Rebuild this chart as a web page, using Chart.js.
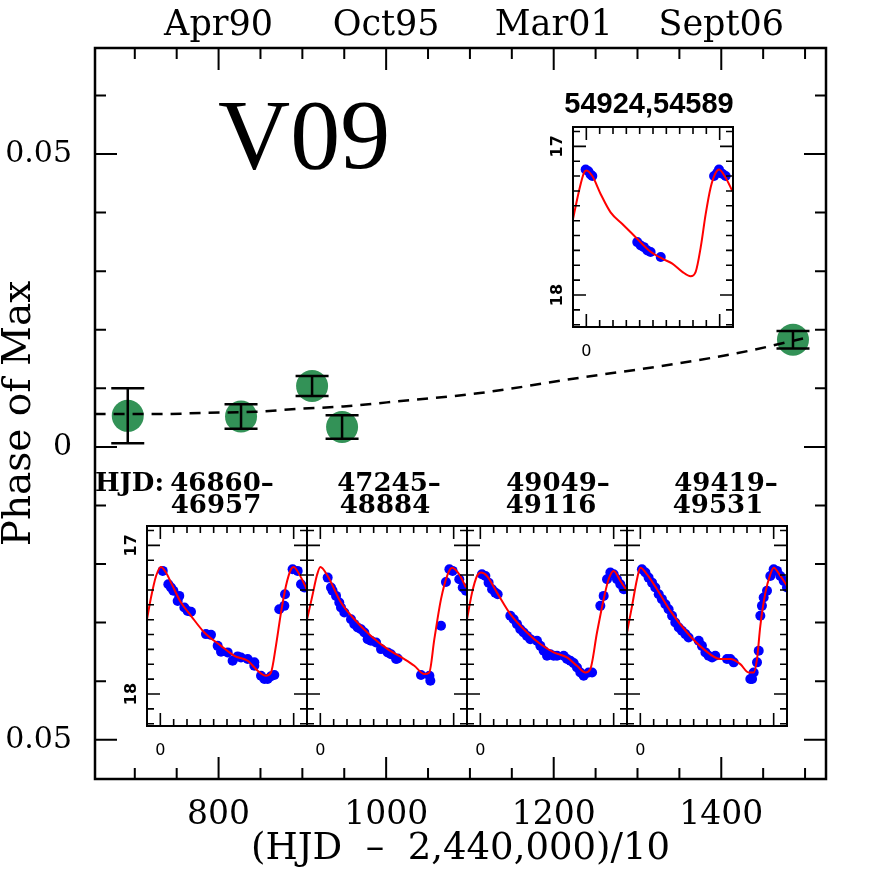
<!DOCTYPE html>
<html>
<head>
<meta charset="utf-8">
<script src="https://cdn.jsdelivr.net/npm/chart.js@4.4.1/dist/chart.umd.min.js"></script>
<style>
html, body { margin: 0; padding: 0; background: #fff; }
#wrap { position: relative; width: 872px; height: 872px; }
canvas { position: absolute; }
</style>
</head>
<body>
<div id="wrap">
  <canvas id="main" width="872" height="872" style="left:0;top:0"></canvas>
</div>
<script>
// ---- main plot data ----
const xTicks = [800, 1000, 1200, 1400];
const topLabels = ['Apr90', 'Oct95', 'Mar01', 'Sept06'];
const yTicks = [-0.05, 0, 0.05];
const yTickLabels = ['0.05', '0', '0.05'];

const epochX = [691.6, 826.8, 911.6, 947.4, 1485.6];
const epochPhase = [0.0053, 0.0052, 0.0104, 0.0034, 0.0183];
const epochErr = [0.0047, 0.0021, 0.0017, 0.0020, 0.0015];

const fitX = [652, 683, 730, 782, 844, 897, 949, 1001, 1112, 1231, 1351, 1433, 1500];
const fitY = [0.0056, 0.0056, 0.0056, 0.0058, 0.0060, 0.0065, 0.0069, 0.0076, 0.0092, 0.0118, 0.0143, 0.0164, 0.0186];

// ---- inset light curves (phase, magnitude) ----
const panelTitles = [['46860–', '46957'], ['47245–', '48884'], ['49049–', '49116'], ['49419–', '49531']];
const hjdPrefix = 'HJD:';
const topInsetTitle = '54924,54589';

const p1ModelPhase = [-0.102, -0.07, -0.032, 0.005, 0.042, 0.092, 0.155, 0.23, 0.33, 0.455, 0.555, 0.655, 0.73, 0.792, 0.83, 0.867, 0.905, 0.942, 0.98, 1.0, 1.042, 1.098];
const p1ModelMag = [17.508, 17.351, 17.206, 17.145, 17.183, 17.273, 17.385, 17.474, 17.586, 17.676, 17.743, 17.776, 17.843, 17.877, 17.855, 17.676, 17.452, 17.273, 17.161, 17.145, 17.195, 17.295];
const p1Phase = [0.018, 0.06, 0.08, 0.098, 0.142, 0.13, 0.18, 0.205, 0.23, 0.342, 0.38, 0.43, 0.455, 0.505, 0.542, 0.58, 0.605, 0.655, 0.705, 0.705, 0.755, 0.78, 0.805, 0.83, 0.855, 0.892, 0.93, 0.935, 0.992, 1.03, 1.055, 1.08];
const p1Mag = [17.172, 17.262, 17.284, 17.306, 17.340, 17.374, 17.418, 17.441, 17.447, 17.597, 17.602, 17.676, 17.716, 17.720, 17.776, 17.747, 17.754, 17.765, 17.787, 17.810, 17.877, 17.899, 17.899, 17.881, 17.872, 17.430, 17.407, 17.329, 17.161, 17.172, 17.262, 17.284];

const p2ModelPhase = [-0.102, -0.06, -0.025, 0, 0.055, 0.155, 0.255, 0.38, 0.505, 0.63, 0.705, 0.78, 0.817, 0.855, 0.905, 0.955, 0.988, 1.042, 1.092];
const p2ModelMag = [17.508, 17.34, 17.2, 17.145, 17.206, 17.385, 17.497, 17.609, 17.698, 17.765, 17.810, 17.866, 17.855, 17.631, 17.362, 17.195, 17.150, 17.195, 17.284];
const p2Phase = [0.055, 0.08, 0.092, 0.118, 0.142, 0.155, 0.18, 0.23, 0.255, 0.28, 0.305, 0.33, 0.355, 0.38, 0.418, 0.455, 0.505, 0.53, 0.568, 0.58, 0.755, 0.818, 0.825, 0.905, 0.942, 0.968, 0.992, 1.042, 1.068, 1.092];
const p2Mag = [17.217, 17.284, 17.306, 17.340, 17.385, 17.418, 17.452, 17.497, 17.530, 17.553, 17.564, 17.586, 17.631, 17.642, 17.653, 17.698, 17.720, 17.732, 17.765, 17.761, 17.872, 17.877, 17.911, 17.541, 17.246, 17.161, 17.172, 17.228, 17.284, 17.306];

const p3ModelPhase = [-0.1, -0.062, -0.025, 0.005, 0.05, 0.125, 0.225, 0.35, 0.45, 0.55, 0.65, 0.725, 0.788, 0.825, 0.875, 0.925, 0.962, 1.0, 1.05, 1.1];
const p3ModelMag = [17.497, 17.318, 17.206, 17.183, 17.206, 17.318, 17.463, 17.586, 17.664, 17.720, 17.754, 17.810, 17.855, 17.832, 17.586, 17.362, 17.228, 17.172, 17.239, 17.306];
const p3Phase = [0.012, 0.038, 0.062, 0.088, 0.112, 0.13, 0.225, 0.25, 0.275, 0.3, 0.325, 0.35, 0.375, 0.425, 0.45, 0.475, 0.5, 0.525, 0.55, 0.575, 0.625, 0.65, 0.675, 0.7, 0.725, 0.75, 0.775, 0.812, 0.838, 0.9, 0.925, 0.95, 0.975, 1.0, 1.025, 1.05, 1.075];
const p3Mag = [17.195, 17.206, 17.251, 17.295, 17.318, 17.329, 17.474, 17.497, 17.530, 17.564, 17.586, 17.609, 17.631, 17.642, 17.676, 17.709, 17.743, 17.732, 17.743, 17.743, 17.743, 17.765, 17.776, 17.792, 17.821, 17.855, 17.877, 17.855, 17.855, 17.407, 17.340, 17.228, 17.183, 17.195, 17.228, 17.262, 17.295];

const p4ModelPhase = [-0.1, -0.062, -0.025, 0, 0.05, 0.125, 0.225, 0.35, 0.475, 0.6, 0.675, 0.75, 0.812, 0.85, 0.875, 0.9, 0.938, 0.975, 1.0, 1.05, 1.1];
const p4ModelMag = [17.586, 17.407, 17.228, 17.150, 17.195, 17.295, 17.441, 17.586, 17.698, 17.765, 17.765, 17.799, 17.855, 17.855, 17.765, 17.541, 17.318, 17.195, 17.150, 17.206, 17.273];
const p4Phase = [0.012, 0.038, 0.062, 0.088, 0.112, 0.138, 0.162, 0.188, 0.212, 0.238, 0.262, 0.288, 0.312, 0.338, 0.362, 0.438, 0.462, 0.488, 0.512, 0.538, 0.562, 0.65, 0.675, 0.7, 0.825, 0.838, 0.85, 0.875, 0.888, 0.9, 0.912, 0.925, 0.95, 0.975, 1.0, 1.025, 1.05, 1.075, 1.1];
const p4Mag = [17.161, 17.183, 17.217, 17.251, 17.284, 17.329, 17.362, 17.396, 17.430, 17.474, 17.519, 17.553, 17.575, 17.597, 17.620, 17.642, 17.676, 17.720, 17.743, 17.754, 17.743, 17.765, 17.765, 17.787, 17.899, 17.899, 17.855, 17.787, 17.709, 17.474, 17.407, 17.351, 17.306, 17.206, 17.161, 17.172, 17.206, 17.239, 17.284];

const p5ModelPhase = [-0.105, -0.055, -0.018, 0, 0.045, 0.108, 0.182, 0.27, 0.37, 0.47, 0.57, 0.645, 0.72, 0.782, 0.82, 0.858, 0.895, 0.932, 0.97, 0.995, 1.045, 1.095];
const p5ModelMag = [17.511, 17.300, 17.178, 17.162, 17.2, 17.322, 17.444, 17.522, 17.611, 17.7, 17.756, 17.789, 17.844, 17.873, 17.844, 17.678, 17.456, 17.278, 17.178, 17.156, 17.211, 17.3];
const p5Phase = [-0.005, 0.015, 0.032, 0.045, 0.382, 0.408, 0.432, 0.458, 0.482, 0.558, 0.958, 0.982, 0.995, 1.02, 1.045];
const p5Mag = [17.156, 17.167, 17.189, 17.2, 17.644, 17.667, 17.678, 17.7, 17.711, 17.744, 17.2, 17.178, 17.156, 17.184, 17.2];

// ---- drawing ----
const serif = '"DejaVu Serif", serif';
const pairs = (xs, ys) => xs.map((x, i) => ({x: x, y: ys[i]}));
const noGrid = { display: false, drawTicks: false, tickLength: 0 };

// frame, inward ticks, error bars and the big star name
const mainDeco = {
  id: 'mainDeco',
  afterDatasetsDraw(chart) {
    const {ctx, scales: {x, y}} = chart;
    ctx.save();
    ctx.strokeStyle = '#000';
    ctx.lineWidth = 2.5;
    epochX.forEach((ex, i) => {
      const px = x.getPixelForValue(ex);
      const top = y.getPixelForValue(epochPhase[i] + epochErr[i]);
      const bot = y.getPixelForValue(epochPhase[i] - epochErr[i]);
      ctx.beginPath();
      ctx.moveTo(px, top); ctx.lineTo(px, bot);
      ctx.moveTo(px - 16.5, top); ctx.lineTo(px + 16.5, top);
      ctx.moveTo(px - 16.5, bot); ctx.lineTo(px + 16.5, bot);
      ctx.stroke();
    });
    ctx.restore();
  },
  afterDraw(chart) {
    const {ctx, chartArea: a, scales: {x, y}} = chart;
    ctx.save();
    ctx.strokeStyle = '#000';
    ctx.lineWidth = 2.5;
    ctx.strokeRect(a.left, a.top, a.right - a.left, a.bottom - a.top);
    ctx.lineWidth = 2;
    ctx.beginPath();
    for (let v = 700; v <= 1500; v += 50) {
      const px = x.getPixelForValue(v);
      const len = xTicks.includes(v) ? 22 : 11;
      ctx.moveTo(px, a.bottom); ctx.lineTo(px, a.bottom - len);
      ctx.moveTo(px, a.top); ctx.lineTo(px, a.top + len);
    }
    for (let k = -5; k <= 6; k++) {
      const py = y.getPixelForValue(k / 100);
      const len = (k % 5 === 0) ? 22 : 11;
      ctx.moveTo(a.left, py); ctx.lineTo(a.left + len, py);
      ctx.moveTo(a.right, py); ctx.lineTo(a.right - len, py);
    }
    ctx.stroke();
    ctx.fillStyle = '#000';
    ctx.font = '100px "Liberation Serif", serif';
    ctx.textBaseline = 'alphabetic';
    ctx.textAlign = 'left';
    ctx.fillText('V09', 218, 168);
    ctx.restore();
  }
};

new Chart(document.getElementById('main'), {
  type: 'scatter',
  data: {
    datasets: [
      {
        data: pairs(epochX, epochPhase),
        pointRadius: 16,
        pointHoverRadius: 16,
        backgroundColor: '#339257',
        borderWidth: 0,
        order: 2
      },
      {
        data: pairs(fitX, fitY),
        showLine: true,
        pointRadius: 0,
        borderColor: '#000',
        borderWidth: 2.5,
        borderDash: [11, 8],
        cubicInterpolationMode: 'monotone',
        order: 1
      }
    ]
  },
  options: {
    responsive: false,
    animation: false,
    layout: { padding: { left: 0, top: 0, right: 46, bottom: 0 } },
    plugins: { legend: { display: false }, tooltip: { enabled: false } },
    scales: {
      x: {
        type: 'linear', position: 'bottom', min: 652.5, max: 1525,
        grid: noGrid, border: { display: false },
        afterBuildTicks: s => { s.ticks = xTicks.map(v => ({value: v})); },
        afterFit: s => { s.height = 93; },
        ticks: { font: { family: serif, size: 33 }, color: '#000', padding: 17, maxRotation: 0,
                 callback: v => String(v) },
        title: { display: true, text: '(HJD  –  2,440,000)/10', color: '#000',
                 font: { family: serif, size: 37 }, padding: { top: 0, bottom: 0 } }
      },
      xTop: {
        type: 'linear', position: 'top', min: 652.5, max: 1525,
        grid: noGrid, border: { display: false },
        afterBuildTicks: s => { s.ticks = xTicks.map(v => ({value: v})); },
        afterFit: s => { s.height = 48; },
        ticks: { font: { family: serif, size: 35 }, color: '#000', padding: 1, maxRotation: 0,
                 callback: (v, i) => topLabels[i] }
      },
      y: {
        type: 'linear', position: 'left', min: -0.0567, max: 0.0681,
        grid: noGrid, border: { display: false },
        afterBuildTicks: s => { s.ticks = yTicks.map(v => ({value: v})); },
        afterFit: s => { s.width = 95; },
        ticks: { font: { family: serif, size: 30 }, color: '#000', padding: 23,
                 callback: (v, i) => yTickLabels[i] },
        title: { display: true, text: 'Phase of Max', color: '#000',
                 font: { family: serif, size: 39, lineHeight: 1 }, padding: 0 }
      },
      yRight: {
        type: 'linear', position: 'right', min: -0.0567, max: 0.0681,
        grid: noGrid, border: { display: false },
        ticks: { display: false },
        afterFit: s => { s.width = 0; }
      }
    }
  },
  plugins: [mainDeco]
});

// ---- insets ----
const insetDeco = {
  id: 'insetDeco',
  afterDraw(chart, args, o) {
    const {ctx, chartArea: a, scales: {x, y}} = chart;
    ctx.save();
    ctx.strokeStyle = '#000';
    ctx.lineWidth = 2;
    ctx.strokeRect(a.left, a.top, a.right - a.left, a.bottom - a.top);
    ctx.lineWidth = 1.6;
    ctx.beginPath();
    for (let k = 0; k <= 10; k++) {
      const px = x.getPixelForValue(k / 10);
      const len = (k === 0 || k === 10) ? 13 : 7;
      ctx.moveTo(px, a.top); ctx.lineTo(px, a.top + len);
      ctx.moveTo(px, a.bottom); ctx.lineTo(px, a.bottom - len);
    }
    for (let k = 169; k <= 182; k++) {
      const py = y.getPixelForValue(k / 10);
      const len = (k % 10 === 0) ? 13 : 7;
      ctx.moveTo(a.left, py); ctx.lineTo(a.left + len, py);
      ctx.moveTo(a.right, py); ctx.lineTo(a.right - len, py);
    }
    ctx.stroke();
    ctx.fillStyle = '#000';
    ctx.textAlign = 'center';
    ctx.textBaseline = 'middle';
    ctx.font = '16px "DejaVu Sans", sans-serif';
    ctx.fillText('0', x.getPixelForValue(0), a.bottom + 25);
    if (o.yLabels) {
      ctx.font = 'bold 16px "DejaVu Sans", sans-serif';
      [17, 18].forEach(m => {
        ctx.save();
        ctx.translate(a.left - 15, y.getPixelForValue(m));
        ctx.rotate(-Math.PI / 2);
        ctx.fillText(String(m), 0, 0);
        ctx.restore();
      });
    }
    (o.titles || []).forEach(t => {
      ctx.font = t.font;
      ctx.textAlign = t.align || 'center';
      ctx.fillText(t.text, a.left + t.dx, a.top + t.dy);
    });
    ctx.restore();
  }
};

const M = 70;
function makeInset(left, top, modelPhase, modelMag, obsPhase, obsMag, deco) {
  const c = document.createElement('canvas');
  c.width = 160 + 2 * M;
  c.height = 200 + 2 * M;
  c.style.left = (left - M) + 'px';
  c.style.top = (top - M) + 'px';
  document.getElementById('wrap').appendChild(c);
  new Chart(c, {
    type: 'scatter',
    data: {
      datasets: [
        { data: pairs(obsPhase, obsMag), pointRadius: 5, backgroundColor: '#0000ff', borderWidth: 0, order: 2 },
        { data: pairs(modelPhase, modelMag), showLine: true, pointRadius: 0, borderColor: '#ff0000',
          borderWidth: 2, cubicInterpolationMode: 'monotone', order: 1 }
      ]
    },
    options: {
      responsive: false,
      animation: false,
      layout: { padding: M },
      plugins: { legend: { display: false }, tooltip: { enabled: false }, insetDeco: deco },
      scales: {
        x: { type: 'linear', min: -0.1, max: 1.1, display: false },
        y: { type: 'linear', min: 16.87, max: 18.215, reverse: true, display: false }
      }
    },
    plugins: [insetDeco]
  });
}

const titleFont = 'bold 26px "DejaVu Serif", serif';
const line1Dx = [75, 82, 91, 99];
const line2Dx = [69, 78, 84, 91];
const panelLeft = [147, 307, 467, 627];
const panels = [
  [p1ModelPhase, p1ModelMag, p1Phase, p1Mag],
  [p2ModelPhase, p2ModelMag, p2Phase, p2Mag],
  [p3ModelPhase, p3ModelMag, p3Phase, p3Mag],
  [p4ModelPhase, p4ModelMag, p4Phase, p4Mag]
];
panels.forEach((p, i) => {
  const titles = [
    { text: panelTitles[i][0], dx: line1Dx[i], dy: -42, font: titleFont },
    { text: panelTitles[i][1], dx: line2Dx[i], dy: -20, font: titleFont }
  ];
  if (i === 0) titles.push({ text: hjdPrefix, dx: 17, dy: -42, font: titleFont, align: 'right' });
  makeInset(panelLeft[i], 526, p[0], p[1], p[2], p[3], { yLabels: i === 0, titles: titles });
});

makeInset(573, 127, p5ModelPhase, p5ModelMag, p5Phase, p5Mag, {
  yLabels: true,
  titles: [{ text: topInsetTitle, dx: 76, dy: -22, font: 'bold 29px "Liberation Sans", sans-serif' }]
});
</script>
</body>
</html>
